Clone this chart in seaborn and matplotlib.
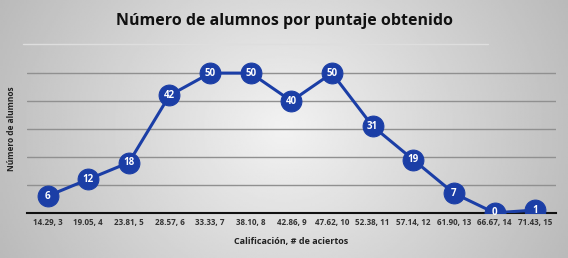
import numpy as np
import pandas as pd
import matplotlib
matplotlib.use('Agg')
import matplotlib.pyplot as plt
import seaborn as sns

# data
categorias = ['14.29, 3', '19.05, 4', '23.81, 5', '28.57, 6', '33.33, 7', '38.10, 8',
              '42.86, 9', '47.62, 10', '52.38, 11', '57.14, 12', '61.90, 13',
              '66.67, 14', '71.43, 15']
alumnos = [6, 12, 18, 42, 50, 50, 40, 50, 31, 19, 7, 0, 1]

titulo = 'Número de alumnos por puntaje obtenido'
xlabel = 'Calificación, # de aciertos'
ylabel = 'Número de alumnos'

AZUL = '#1b3ea6'

sns.set_style('white')
plt.rcParams['font.family'] = ['Open Sans', 'DejaVu Sans']

df = pd.DataFrame({'pos': np.arange(len(categorias)), 'cat': categorias, 'n': alumnos})

fig = plt.figure(figsize=(5.68, 2.58), dpi=100)

# fondo degradado gris
bg = fig.add_axes([0, 0, 1, 1], zorder=-10)
xx, yy = np.meshgrid(np.linspace(-1, 1, 300), np.linspace(-1, 1, 150))
r = np.sqrt((xx * 0.9) ** 2 + (yy * 0.45) ** 2)
bg.imshow(0.95 - 0.22 * r, cmap='gray', vmin=0, vmax=1, aspect='auto',
          extent=[0, 1, 0, 1])
bg.axis('off')
bg.plot([0.04, 0.86], [0.83, 0.83], color='#dedede', lw=1.0)

ax = fig.add_axes([0.048, 0.175, 0.93, 0.65])
ax.patch.set_alpha(0)

for v in [10, 20, 30, 40, 50]:
    ax.axhline(v, color='#909090', lw=1.0, zorder=0)

sns.lineplot(data=df, x='pos', y='n', color=AZUL, lw=2.2, marker='o',
             markersize=15, markerfacecolor=AZUL, markeredgecolor=AZUL,
             ax=ax, zorder=3)

for i, v in zip(df['pos'], df['n']):
    ax.text(i, v, str(v), ha='center', va='center', color='white',
            fontsize=7, fontweight='bold', zorder=5)

ax.set_xlim(-0.5, len(categorias) - 0.5)
ax.set_ylim(0, 60)
ax.set_yticks([])
ax.set_xticks(df['pos'])
ax.set_xticklabels(categorias, fontsize=5.8, fontweight='bold', color='#333333')
ax.tick_params(axis='x', length=0, pad=4)
for s in ['top', 'right', 'left']:
    ax.spines[s].set_visible(False)
ax.spines['bottom'].set_color('#111111')
ax.spines['bottom'].set_linewidth(1.5)
ax.spines['bottom'].set_zorder(2)

ax.set_xlabel(xlabel, fontsize=6.5, fontweight='bold', color='#222222', labelpad=7)
ax.set_ylabel(ylabel, fontsize=6, fontweight='bold', color='#222222', labelpad=8)

fig.text(0.5, 0.92, titulo, ha='center', va='center', fontsize=11.5,
         fontweight='bold', color='#111111')

fig.savefig('out.png', dpi=100)
